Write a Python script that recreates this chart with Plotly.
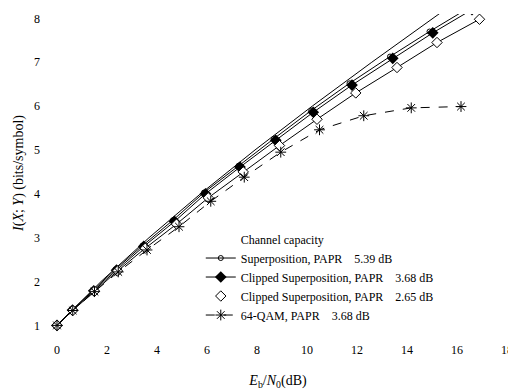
import plotly.graph_objects as go

# Channel capacity (line only)
cap_x = [0.0, 1.76, 3.68, 5.74, 7.92, 10.21, 12.59, 15.03, 15.4]
cap_y = [1.0, 2.0, 3.0, 4.0, 5.0, 6.0, 7.0, 8.0, 8.15]

# Superposition, PAPR 5.39 dB
sup_x = [0.0, 0.60, 1.44, 2.34, 3.42, 4.64, 5.88, 7.26, 8.68, 10.17, 11.70, 13.32, 14.90, 16.50]
sup_y = [1.0, 1.35, 1.80, 2.28, 2.82, 3.40, 4.03, 4.64, 5.26, 5.90, 6.52, 7.13, 7.70, 8.25]

# Clipped Superposition, PAPR 3.68 dB
clip1_x = [0.0, 0.62, 1.47, 2.38, 3.47, 4.70, 5.94, 7.32, 8.75, 10.25, 11.80, 13.43, 15.03, 16.60]
clip1_y = [1.0, 1.35, 1.79, 2.26, 2.80, 3.37, 4.00, 4.61, 5.22, 5.86, 6.48, 7.09, 7.67, 8.20]

# Clipped Superposition, PAPR 2.65 dB
clip2_x = [0.0, 0.63, 1.50, 2.42, 3.53, 4.78, 6.05, 7.45, 8.90, 10.40, 11.95, 13.60, 15.20, 16.90]
clip2_y = [1.0, 1.34, 1.78, 2.24, 2.76, 3.31, 3.91, 4.50, 5.10, 5.70, 6.30, 6.88, 7.45, 7.98]

# 64-QAM, PAPR 3.68 dB
qam_x = [0.0, 0.63, 1.50, 2.45, 3.60, 4.88, 6.15, 7.49, 8.95, 10.50, 12.27, 14.17, 16.16]
qam_y = [1.0, 1.34, 1.77, 2.22, 2.72, 3.25, 3.83, 4.38, 4.95, 5.46, 5.78, 5.96, 5.99]

x_ticks = [0, 2, 4, 6, 8, 10, 12, 14, 16, 18]
y_ticks = [1, 2, 3, 4, 5, 6, 7, 8]

names = [
    "Channel capacity",
    "Superposition, PAPR\u00a0\u00a0\u00a0\u00a05.39 dB",
    "Clipped Superposition, PAPR\u00a0\u00a0\u00a0\u00a03.68 dB",
    "Clipped Superposition, PAPR\u00a0\u00a0\u00a0\u00a02.65 dB",
    "64-QAM, PAPR\u00a0\u00a0\u00a0\u00a03.68 dB",
]

K = "black"
fig = go.Figure()

# legend entry for channel capacity (no sample shown, as in the reference)
fig.add_trace(go.Scatter(x=[None], y=[None], mode="lines", name=names[0],
                         line=dict(color="rgba(0,0,0,0)", width=1)))
fig.add_trace(go.Scatter(x=cap_x, y=cap_y, mode="lines", showlegend=False,
                         line=dict(color=K, width=1)))
fig.add_trace(go.Scatter(x=sup_x, y=sup_y, mode="lines+markers", name=names[1],
                         line=dict(color=K, width=1),
                         marker=dict(symbol="circle-open", size=5, color=K, line=dict(width=1))))
fig.add_trace(go.Scatter(x=clip1_x, y=clip1_y, mode="lines+markers", name=names[2],
                         line=dict(color=K, width=1),
                         marker=dict(symbol="diamond", size=9, color=K)))
fig.add_trace(go.Scatter(x=clip2_x, y=clip2_y, mode="lines+markers", showlegend=False,
                         line=dict(color=K, width=1),
                         marker=dict(symbol="diamond", size=8, color="white", line=dict(color=K, width=1))))
fig.add_trace(go.Scatter(x=[None], y=[None], mode="markers", name=names[3],
                         marker=dict(symbol="diamond", size=8, color="white", line=dict(color=K, width=1))))
fig.add_trace(go.Scatter(x=qam_x, y=qam_y, mode="lines+markers", name=names[4],
                         line=dict(color=K, width=1, dash="dash"),
                         marker=dict(symbol="asterisk-open", size=9, color=K, line=dict(color=K, width=1))))

# the page body has an 8px margin, so the figure is made 8px smaller on each axis
fig.update_layout(
    width=508, height=382,
    margin=dict(l=36, r=4, t=6, b=58),
    paper_bgcolor="white", plot_bgcolor="white",
    font=dict(family="Liberation Serif", size=12, color="black"),
    showlegend=True,
    legend=dict(x=0.335, y=0.338, xanchor="left", yanchor="top",
                bgcolor="rgba(0,0,0,0)", font=dict(size=12), tracegroupgap=0),
    xaxis=dict(range=[-0.52, 18.2], tickvals=x_ticks, showgrid=False, zeroline=False,
               showline=False, ticks="", ticklabelstandoff=9, ticklabeloverflow="allow",
               automargin=False,
               title=dict(text="<i>E</i><sub>b</sub>/<i>N</i><sub>0</sub>(dB)", standoff=21)),
    yaxis=dict(range=[0.85, 8.1], tickvals=y_ticks, showgrid=False, zeroline=False,
               showline=False, ticks="", ticklabelstandoff=3, automargin=False,
               title=dict(text="<i>I</i>(<i>X</i>; <i>Y</i>) (bits/symbol)", standoff=7)),
)

fig.write_html("out.html")
